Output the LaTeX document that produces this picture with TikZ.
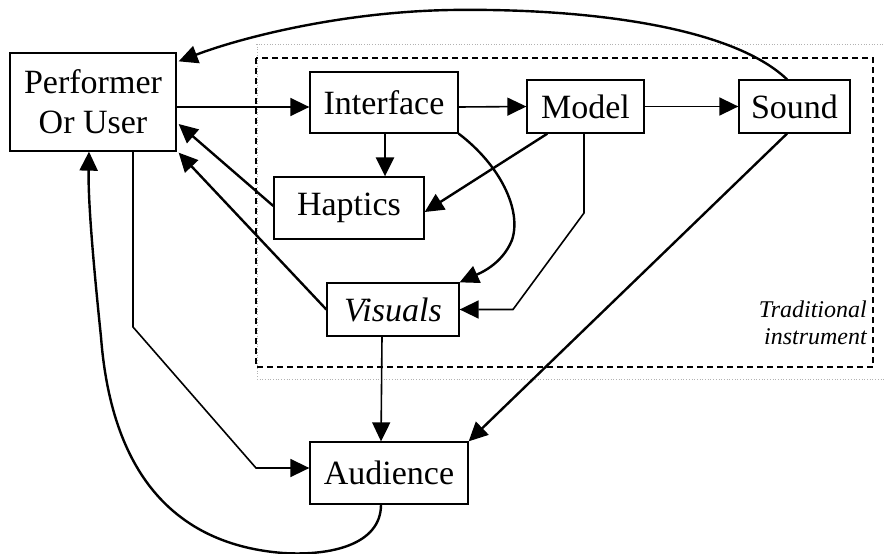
\documentclass[tikz,border=0pt]{standalone}
\usepackage{fontspec}
\setmainfont{Liberation Serif}
\usetikzlibrary{arrows.meta,calc}
\tikzset{
  box/.style={draw,line width=1.3pt,rectangle,inner sep=0pt,align=center,
    font=\fontsize{34pt}{40pt}\selectfont},
  conn/.style={line width=1.6pt,-{Triangle[length=19pt,width=18pt]}},
  thick conn/.style={line width=2.4pt,-{Triangle[length=19pt,width=18pt]}},
}
\begin{document}
\begin{tikzpicture}[x=1pt,y=-1pt]
\useasboundingbox (0,0) rectangle (884,554);
% frames
\draw[gray!60,line width=0.7pt,dotted] (256,44) -- (884,44);
\draw[gray!60,line width=0.7pt,dotted] (257,44) -- (257,379) -- (884,379);
\draw[dashed,line width=1.2pt,dash pattern=on 6pt off 4pt] (256,58) rectangle (873,367);
\node[font=\fontsize{24pt}{27pt}\selectfont\itshape,align=right,anchor=north east,inner sep=0pt] (trad) at (867,301) {Traditional\\instrument};
% nodes
\node[box,minimum width=166pt,minimum height=98pt] (perf) at (93,102) {Performer\\Or User};
\node[box,minimum width=148pt,minimum height=61pt] (int) at (384,102.5) {Interface};
\node[box,minimum width=117pt,minimum height=53pt] (mod) at (585.5,106.5) {Model};
\node[box,minimum width=111pt,minimum height=53pt] (snd) at (794.5,106.5) {Sound};
\node[box,minimum width=150pt,minimum height=62pt] (hap) at (349,208) {Haptics};
\node[box,minimum width=132pt,minimum height=53pt,font=\fontsize{34pt}{40pt}\selectfont\itshape] (vis) at (393,309.5) {Visuals};
\node[box,minimum width=158pt,minimum height=62pt] (aud) at (389,473) {Audience};
% connectors
\draw[conn] ($(perf.east)+(0,5)$) -- ($(int.west)+(0,4.5)$);
\draw[conn] ($(int.east)+(0,4.5)$) -- (mod.west);
\draw[conn] (mod.east) -- (snd.west);
\draw[thick conn] ($(int.south)+(1,0)$) -- ($(hap.north)+(36,0)$);
\draw[thick conn] ($(mod.south west)+(21,0)$) -- ($(hap.east)+(0,4)$);
\draw[thick conn] ($(hap.west)+(0,-2)$) -- ($(perf.east)+(2,22)$);
\draw[thick conn] ($(vis.west)+(0,0)$) -- ($(perf.south east)+(2,1)$);
\draw[thick conn] (int.south east) .. controls (500,165) and (522,210) .. (512,240)
   .. controls (502,265) and (478,274) .. (vis.north east);
\draw[conn] ($(mod.south)+(-1.5,0)$) -- (584,213) -- (513,309.5) -- (vis.east);
\draw[thick conn] ($(snd.south)+(-7.5,0)$) -- (aud.north east);
\draw[conn] ($(vis.south)+(-11,0)$) -- ($(aud.north)+(-8,0)$);
\draw[conn] ($(perf.south)+(40,0)$) -- (133,327) -- (256,468) -- ($(aud.west)+(0,-5)$);
\draw[thick conn] ($(snd.north)+(-7.5,0)$) .. controls (730,25) and (580,8) .. (450,10)
   .. controls (340,12) and (240,38) .. ($(perf.north east)+(2,9)$);
\draw[thick conn] ($(aud.south)+(-8,0)$) .. controls (381,545) and (330,556) .. (283,553)
   .. controls (180,545) and (112,480) .. (101,337)
   .. controls (93,260) and (88,200) .. ($(perf.south)+(-4,0)$);
\end{tikzpicture}
\end{document}
